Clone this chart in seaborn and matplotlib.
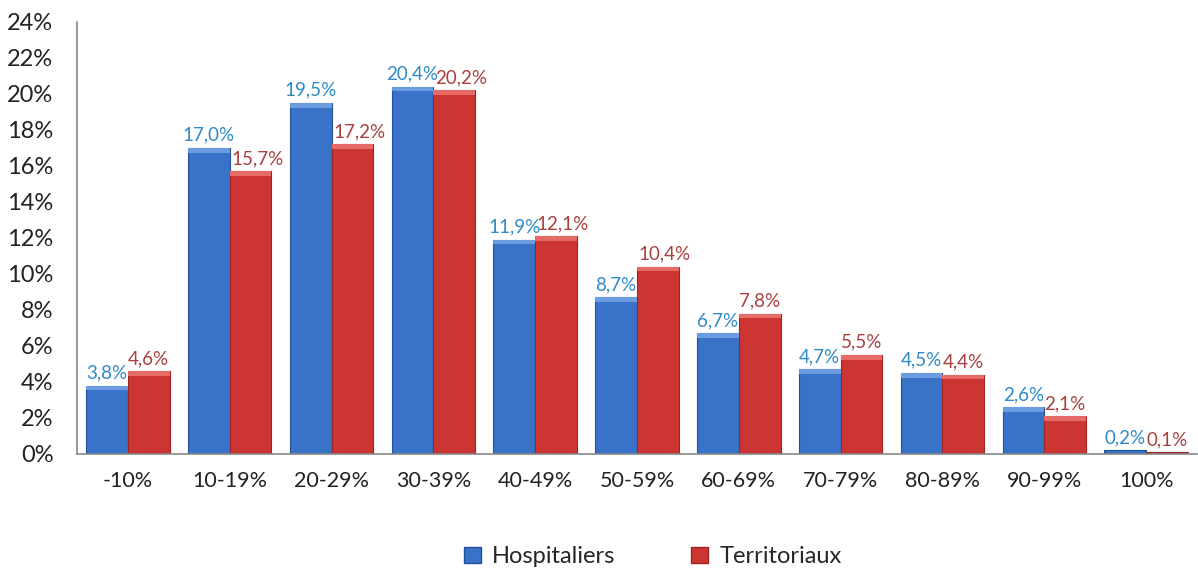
import matplotlib
matplotlib.use("Agg")
import matplotlib.pyplot as plt
import numpy as np
import pandas as pd
import seaborn as sns

categories = ["-10%", "10-19%", "20-29%", "30-39%", "40-49%", "50-59%",
              "60-69%", "70-79%", "80-89%", "90-99%", "100%"]
hospitaliers = [3.8, 17.0, 19.5, 20.4, 11.9, 8.7, 6.7, 4.7, 4.5, 2.6, 0.2]
territoriaux = [4.6, 15.7, 17.2, 20.2, 12.1, 10.4, 7.8, 5.5, 4.4, 2.1, 0.1]
series = ["Hospitaliers", "Territoriaux"]

BLUE = "#3872C9"
RED = "#CD3533"
BLUE_TXT = "#2F8AC8"
RED_TXT = "#A8403E"

df = pd.DataFrame({
    "cat": categories * 2,
    "val": hospitaliers + territoriaux,
    "serie": [series[0]] * len(categories) + [series[1]] * len(categories),
})

sns.set_theme(style="white")
plt.rcParams["font.family"] = ["Lato", "DejaVu Sans"]

fig = plt.figure(figsize=(11.98, 5.74), dpi=100)
ax = fig.add_axes([77 / 1198, 120 / 574, 1120 / 1198, 432 / 574])

sns.barplot(data=df, x="cat", y="val", hue="serie", order=categories,
            hue_order=series, palette=[BLUE, RED], width=0.82,
            saturation=1, edgecolor="none", legend=False, ax=ax)

# darker rims + lighter top strip to hint at the bevelled look
for cont, edge, light in zip(ax.containers, ["#23509A", "#9E2424"], ["#6D9BE0", "#E66A66"]):
    for bar in cont:
        bar.set_edgecolor(edge)
        bar.set_linewidth(0.8)
        h = bar.get_height()
        if h > 0.3:
            ax.add_patch(plt.Rectangle((bar.get_x(), h - 0.25), bar.get_width(), 0.25,
                                       facecolor=light, edgecolor="none", zorder=bar.get_zorder() + 0.1))

# value labels; wide red labels are nudged right like in the original
for k, (cont, col) in enumerate(zip(ax.containers, [BLUE_TXT, RED_TXT])):
    for bar in cont:
        h = bar.get_height()
        dx = 5 if (k == 1 and h >= 10) else 0
        ax.annotate(f"{h:.1f}%".replace(".", ","),
                    (bar.get_x() + bar.get_width() / 2, h),
                    xytext=(dx, 3), textcoords="offset points",
                    ha="center", va="bottom", color=col, fontsize=13.5)

ax.set_xlim(-0.5, len(categories) - 0.5)
ax.set_ylim(0, 24)
ax.set_yticks(np.arange(0, 25, 2))
ax.set_yticklabels([f"{v}%" for v in range(0, 25, 2)], fontsize=17, color="#222222")
ax.set_xticks(range(len(categories)))
ax.set_xticklabels(categories, fontsize=15.5, color="#222222")
ax.set_xticks(np.arange(-0.5, len(categories), 1), minor=True)
ax.tick_params(axis="x", which="major", length=0, pad=12)
ax.tick_params(axis="x", which="minor", length=6, color="#888888", width=1.2, direction="out")
ax.tick_params(axis="y", length=6, color="#888888", width=1.2, direction="out", pad=11)
ax.set_xlabel("")
ax.set_ylabel("")

sns.despine(ax=ax, top=True, right=True)
for side in ["left", "bottom"]:
    ax.spines[side].set_color("#888888")
    ax.spines[side].set_linewidth(1.2)

handles = [plt.Rectangle((0, 0), 1, 1, facecolor=BLUE, edgecolor="#23509A"),
           plt.Rectangle((0, 0), 1, 1, facecolor=RED, edgecolor="#9E2424")]
fig.legend(handles, series, loc="lower center", bbox_to_anchor=(0.545, -0.025),
           ncol=2, frameon=False, fontsize=17, handlelength=0.7, handleheight=0.7,
           handletextpad=0.5, columnspacing=3.2)

fig.savefig("out.png", dpi=100)
